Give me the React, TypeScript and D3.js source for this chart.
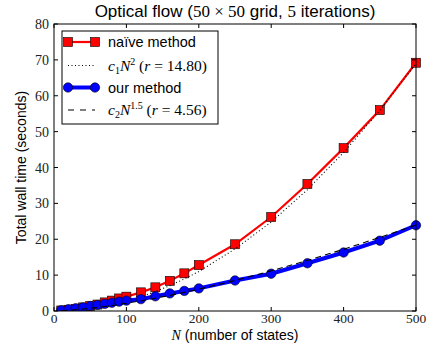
import React, { useEffect, useRef } from 'react';
import * as d3 from 'd3';

// N values sampled in the experiment
const nStates = [10, 20, 30, 40, 50, 60, 70, 80, 90, 100, 120, 140, 160, 180, 200, 250, 300, 350, 400, 450, 500];
// naive method wall time (s)
const naiveTime = [0.15, 0.35, 0.6, 1.0, 1.4, 1.8, 2.4, 2.9, 3.5, 4.0, 5.2, 6.6, 8.4, 10.5, 12.8, 18.6, 26.2, 35.4, 45.4, 56.0, 69.2];
// our method wall time (s)
const oursTime = [0.2, 0.5, 0.75, 1.0, 1.4, 1.7, 2.0, 2.3, 2.6, 2.9, 3.3, 4.1, 4.9, 5.6, 6.3, 8.5, 10.4, 13.3, 16.3, 19.6, 23.9];
// fitted curves, read at the same N
const fitQuad = [0.03, 0.11, 0.25, 0.44, 0.69, 0.99, 1.35, 1.77, 2.24, 2.76, 3.97, 5.41, 7.07, 8.94, 11.0, 17.3, 24.8, 33.8, 44.2, 55.9, 69.0];
const fitPow = [0.07, 0.19, 0.35, 0.54, 0.76, 1.0, 1.26, 1.54, 1.84, 2.15, 2.83, 3.56, 4.35, 5.19, 6.08, 8.5, 11.2, 14.1, 17.2, 20.5, 24.0];

const xTicks = [0, 100, 200, 300, 400, 500];
const yTicks = [0, 10, 20, 30, 40, 50, 60, 70, 80];

const serif = '"Liberation Serif", "DejaVu Serif", serif';
const sans = '"Liberation Sans", Arial, sans-serif';

const App = () => {
  const svgRef = useRef<SVGSVGElement>(null);

  useEffect(() => {
    const W = 436;
    const H = 349;
    const margin = { top: 24, right: 20, bottom: 38, left: 54 };
    const width = W - margin.left - margin.right;
    const height = H - margin.top - margin.bottom;

    const root = d3.select(svgRef.current);
    root.selectAll('*').remove();
    root.attr('width', W).attr('height', H);
    root.append('rect').attr('width', W).attr('height', H).attr('fill', 'white');

    const svg = root.append('g').attr('transform', `translate(${margin.left},${margin.top})`);

    const x = d3.scaleLinear().domain([0, 500]).range([0, width]);
    const y = d3.scaleLinear().domain([0, 80]).range([height, 0]);

    const defs = root.append('defs');
    defs.append('clipPath').attr('id', 'plotclip')
      .append('rect').attr('x', -6).attr('y', -6).attr('width', width + 12).attr('height', height + 6);

    const plot = svg.append('g').attr('clip-path', 'url(#plotclip)');

    const line = d3.line<number>()
      .x((_, i) => x(nStates[i]))
      .y(d => y(d));

    // naive method
    plot.append('path').datum(naiveTime)
      .attr('fill', 'none').attr('stroke', '#ff0000').attr('stroke-width', 2.2)
      .attr('d', line);
    plot.selectAll('rect.naive').data(naiveTime).enter().append('rect')
      .attr('class', 'naive')
      .attr('x', (_, i) => x(nStates[i]) - 4.5)
      .attr('y', d => y(d) - 4.5)
      .attr('width', 9).attr('height', 9)
      .attr('fill', '#ff0000').attr('stroke', '#000').attr('stroke-width', 0.6);

    // quadratic fit
    plot.append('path').datum(fitQuad)
      .attr('fill', 'none').attr('stroke', '#000').attr('stroke-width', 1.1)
      .attr('stroke-dasharray', '1,2.5')
      .attr('d', line);

    // our method
    plot.append('path').datum(oursTime)
      .attr('fill', 'none').attr('stroke', '#0000ff').attr('stroke-width', 4)
      .attr('d', line);
    plot.selectAll('circle.ours').data(oursTime).enter().append('circle')
      .attr('class', 'ours')
      .attr('cx', (_, i) => x(nStates[i]))
      .attr('cy', d => y(d))
      .attr('r', 4.7)
      .attr('fill', '#0000ff').attr('stroke', '#000').attr('stroke-width', 0.6);

    // N^1.5 fit
    plot.append('path').datum(fitPow)
      .attr('fill', 'none').attr('stroke', '#000').attr('stroke-width', 1.1)
      .attr('stroke-dasharray', '6,4')
      .attr('d', line);

    // frame
    svg.append('rect').attr('width', width).attr('height', height)
      .attr('fill', 'none').attr('stroke', '#000').attr('stroke-width', 1);

    // ticks, inward on all four sides
    const tl = 4;
    xTicks.forEach(t => {
      svg.append('line').attr('x1', x(t)).attr('x2', x(t)).attr('y1', height).attr('y2', height - tl).attr('stroke', '#000');
      svg.append('line').attr('x1', x(t)).attr('x2', x(t)).attr('y1', 0).attr('y2', tl).attr('stroke', '#000');
      svg.append('text').attr('x', x(t)).attr('y', height + 12)
        .attr('text-anchor', 'middle').attr('font-family', serif).attr('font-size', 13.5)
        .attr('fill', '#222').text(t);
    });
    yTicks.forEach(t => {
      svg.append('line').attr('x1', 0).attr('x2', tl).attr('y1', y(t)).attr('y2', y(t)).attr('stroke', '#000');
      svg.append('line').attr('x1', width).attr('x2', width - tl).attr('y1', y(t)).attr('y2', y(t)).attr('stroke', '#000');
      svg.append('text').attr('x', -5).attr('y', y(t) + 5)
        .attr('text-anchor', 'end').attr('font-family', serif).attr('font-size', 14)
        .attr('fill', '#222').text(t);
    });

    // title
    const title = root.append('text').attr('x', margin.left + width / 2).attr('y', 17)
      .attr('text-anchor', 'middle').attr('font-family', sans).attr('font-size', 17).attr('fill', '#000');
    title.append('tspan').text('Optical flow (');
    title.append('tspan').attr('font-family', serif).text('50 × 50');
    title.append('tspan').text(' grid, ');
    title.append('tspan').attr('font-family', serif).text('5');
    title.append('tspan').text(' iterations)');

    // axis labels
    const xl = root.append('text').attr('x', margin.left + width / 2).attr('y', 340)
      .attr('text-anchor', 'middle').attr('font-family', sans).attr('font-size', 14).attr('fill', '#000');
    xl.append('tspan').attr('font-family', serif).attr('font-style', 'italic').text('N');
    xl.append('tspan').text(' (number of states)');

    root.append('text')
      .attr('transform', `translate(26,${margin.top + height / 2}) rotate(-90)`)
      .attr('text-anchor', 'middle').attr('font-family', sans).attr('font-size', 14)
      .attr('fill', '#000').text('Total wall time (seconds)');

    // legend
    const lg = root.append('g').attr('transform', 'translate(62,31)');
    lg.append('rect').attr('width', 156).attr('height', 93)
      .attr('fill', 'white').attr('stroke', '#000').attr('stroke-width', 1);
    const hx0 = 6;
    const hx1 = 33;
    const tx = 46;
    const rows = [11, 34.5, 56.5, 79];

    lg.append('line').attr('x1', hx0).attr('x2', hx1).attr('y1', rows[0]).attr('y2', rows[0])
      .attr('stroke', '#ff0000').attr('stroke-width', 2.2);
    [hx0, hx1].forEach(hx => {
      lg.append('rect').attr('x', hx - 4.5).attr('y', rows[0] - 4.5).attr('width', 9).attr('height', 9)
        .attr('fill', '#ff0000').attr('stroke', '#000').attr('stroke-width', 0.6);
    });
    lg.append('text').attr('x', tx).attr('y', rows[0] + 5).attr('font-family', sans)
      .attr('font-size', 14.5).text('naïve method');

    lg.append('line').attr('x1', hx0).attr('x2', hx1).attr('y1', rows[1]).attr('y2', rows[1])
      .attr('stroke', '#000').attr('stroke-width', 1.1).attr('stroke-dasharray', '1,2.5');
    const t1 = lg.append('text').attr('x', tx).attr('y', rows[1] + 5).attr('font-family', serif)
      .attr('font-size', 15.5);
    t1.append('tspan').attr('font-style', 'italic').text('c');
    t1.append('tspan').attr('font-size', 10).attr('dy', 3).text('1');
    t1.append('tspan').attr('font-style', 'italic').attr('dy', -3).text('N');
    t1.append('tspan').attr('font-size', 10).attr('dy', -6).text('2');
    t1.append('tspan').attr('dy', 6).text(' (');
    t1.append('tspan').attr('font-style', 'italic').text('r');
    t1.append('tspan').text(' = 14.80)');

    lg.append('line').attr('x1', hx0).attr('x2', hx1).attr('y1', rows[2]).attr('y2', rows[2])
      .attr('stroke', '#0000ff').attr('stroke-width', 4);
    [hx0, hx1].forEach(hx => {
      lg.append('circle').attr('cx', hx).attr('cy', rows[2]).attr('r', 4.7)
        .attr('fill', '#0000ff').attr('stroke', '#000').attr('stroke-width', 0.6);
    });
    lg.append('text').attr('x', tx).attr('y', rows[2] + 5).attr('font-family', sans)
      .attr('font-size', 14.5).text('our method');

    lg.append('line').attr('x1', hx0).attr('x2', hx1).attr('y1', rows[3]).attr('y2', rows[3])
      .attr('stroke', '#000').attr('stroke-width', 1.1).attr('stroke-dasharray', '6,6');
    const t2 = lg.append('text').attr('x', tx).attr('y', rows[3] + 5).attr('font-family', serif)
      .attr('font-size', 15.5);
    t2.append('tspan').attr('font-style', 'italic').text('c');
    t2.append('tspan').attr('font-size', 10).attr('dy', 3).text('2');
    t2.append('tspan').attr('font-style', 'italic').attr('dy', -3).text('N');
    t2.append('tspan').attr('font-size', 10).attr('dy', -6).text('1.5');
    t2.append('tspan').attr('dy', 6).text(' (');
    t2.append('tspan').attr('font-style', 'italic').text('r');
    t2.append('tspan').text(' = 4.56)');
  }, []);

  return <svg ref={svgRef} style={{ position: 'absolute', left: 0, top: 0 }} />;
};

export default App;
